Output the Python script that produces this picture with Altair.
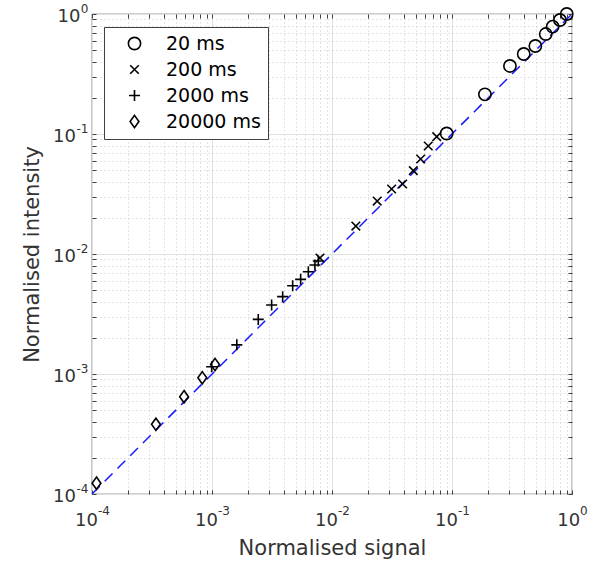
import math
import altair as alt
import pandas as pd

# Normalised signal / intensity pairs per exposure time
series_labels = ["20 ms", "200 ms", "2000 ms", "20000 ms"]

signal_20 = [0.904, 0.794, 0.690, 0.604, 0.495, 0.396, 0.304, 0.188, 0.0903]
intensity_20 = [1.0, 0.891, 0.784, 0.681, 0.541, 0.464, 0.369, 0.214, 0.101]

signal_200 = [0.0746, 0.0634, 0.0548, 0.0476, 0.0388, 0.0314, 0.0238, 0.0158, 0.00794]
intensity_200 = [0.095, 0.0794, 0.0619, 0.0495, 0.0383, 0.0348, 0.0276, 0.0171, 0.00926]

signal_2000 = [0.00769, 0.00721, 0.00635, 0.00548, 0.00470, 0.00388, 0.00314,
               0.00243, 0.00161, 0.000994]
intensity_2000 = [0.00874, 0.00810, 0.00712, 0.00615, 0.00544, 0.00441, 0.00376,
                  0.00285, 0.00175, 0.00115]

signal_20000 = [0.000109, 0.000341, 0.000585, 0.000830, 0.00106]
intensity_20000 = [0.000123, 0.000381, 0.000647, 0.000931, 0.00120]

# y = x reference line
ref_line = [1e-4, 1.0]

major_ticks = [1e-4, 1e-3, 1e-2, 1e-1, 1.0]
exponents = ["-4", "-3", "-2", "-1", "0"]
minor_ticks = [m * 10.0 ** k for k in range(-4, 0) for m in range(2, 10)]

rows = []
for lab, xs, ys in zip(series_labels,
                       [signal_20, signal_200, signal_2000, signal_20000],
                       [intensity_20, intensity_200, intensity_2000, intensity_20000]):
    for a, b in zip(xs, ys):
        rows.append({"signal": a, "intensity": b, "exposure": lab})
points_df = pd.DataFrame(rows)
line_df = pd.DataFrame({"signal": ref_line, "intensity": ref_line})

# exponent text for each decade tick
exp_expr = "''"
for v, e in zip(major_ticks, exponents):
    k = round(math.log10(v))
    exp_expr = f"(abs(log(datum.value)/log(10) - ({k})) < 0.01 ? '{e}' : {exp_expr})"

FONT = "DejaVu Sans"
TEXT = "#333333"
EDGE = "#404040"
BASE_SIZE = 18
EXP_SIZE = 12

xscale = alt.Scale(type="log", domain=[1e-4, 1.0], nice=False)
yscale = alt.Scale(type="log", domain=[1e-4, 1.0], nice=False)


def bare_axis(orient, values, **kw):
    base = dict(orient=orient, values=values, labels=False, ticks=False,
                domain=False, grid=False, title=None)
    base.update(kw)
    return alt.Axis(**base)


def is_one(a, b):
    return {"condition": {"test": "datum.value >= 0.5", "value": a}, "value": b}


label_common = dict(labelFont=FONT, labelColor=TEXT, labelFlush=False,
                    labelOverlap=False, labelBound=False)

# dashed y = x line; carries the "10" part of the labels, titles and major grid
line = alt.Chart(line_df).mark_line(
    color="#1a1aff", strokeDash=[11, 7], strokeWidth=1.5, clip=True
).encode(
    x=alt.X("signal:Q", scale=xscale, axis=alt.Axis(
        orient="bottom", values=major_ticks, grid=True, gridColor="#e0e0e0",
        gridWidth=1, ticks=False, domain=False, labelExpr="'10'",
        labelFontSize=BASE_SIZE, labelAlign="right", labelBaseline="top",
        labelPadding=17, labelOffset=is_one(7.6, 5.4), **label_common,
        title="Normalised signal", titleFont=FONT, titleFontSize=21,
        titleFontWeight="normal", titleColor=TEXT, titlePadding=8)),
    y=alt.Y("intensity:Q", scale=yscale, axis=alt.Axis(
        orient="left", values=major_ticks, grid=True, gridColor="#e0e0e0",
        gridWidth=1, ticks=False, domain=False, labelExpr="'10'",
        labelFontSize=BASE_SIZE, labelAlign="right", labelBaseline="middle",
        labelPadding=is_one(12, 16.5), labelOffset=2, **label_common,
        title="Normalised intensity", titleFont=FONT, titleFontSize=21,
        titleFontWeight="normal", titleColor=TEXT, titlePadding=10)),
)

shape_paths = [
    "circle",
    "M-0.7,-0.7L0.7,0.7M0.7,-0.7L-0.7,0.7",
    "M-0.9,0L0.9,0M0,-0.9L0,0.9",
    "M0,-1L0.72,0L0,1L-0.72,0Z",
]

points = alt.Chart(points_df).mark_point(
    filled=False, color="black", strokeWidth=1.6, size=150, opacity=1
).encode(
    x=alt.X("signal:Q", scale=xscale,
            axis=bare_axis("bottom", minor_ticks, grid=True, gridColor="#c8c8c8",
                           gridDash=[1, 3], gridWidth=1)),
    y=alt.Y("intensity:Q", scale=yscale,
            axis=bare_axis("left", minor_ticks, grid=True, gridColor="#c8c8c8",
                           gridDash=[1, 3], gridWidth=1)),
    shape=alt.Shape("exposure:N", scale=alt.Scale(domain=series_labels, range=shape_paths),
                    legend=alt.Legend(
                        orient="none", legendX=12, legendY=13, title=None,
                        strokeColor=EDGE, fillColor="white", padding=7,
                        labelFont=FONT, labelFontSize=19, labelColor="black",
                        symbolSize=150, symbolStrokeColor="black",
                        symbolStrokeWidth=1.6, symbolFillColor="transparent",
                        symbolOffset=14, rowPadding=6, labelOffset=22,
                        cornerRadius=0)),
)

# superscript exponents of the decade labels
exps = alt.Chart(line_df).mark_point(opacity=0).encode(
    x=alt.X("signal:Q", scale=xscale, axis=alt.Axis(
        orient="bottom", values=major_ticks, grid=False, ticks=False, domain=False,
        labelExpr=exp_expr, labelFontSize=EXP_SIZE, labelAlign="left",
        labelBaseline="top", labelPadding=11, labelOffset=is_one(7.6, 5.4),
        title=None, **label_common)),
    y=alt.Y("intensity:Q", scale=yscale, axis=alt.Axis(
        orient="left", values=major_ticks, grid=False, ticks=False, domain=False,
        labelExpr=exp_expr, labelFontSize=EXP_SIZE, labelAlign="right",
        labelBaseline="middle", labelPadding=4, labelOffset=-6,
        title=None, **label_common)),
)

# inward tick marks on all four edges
all_ticks = major_ticks + minor_ticks
tick_kw = dict(ticks=True, tickSize=4, tickColor=EDGE, tickWidth=1, offset=-4)

ticks_bl = alt.Chart(line_df).mark_point(opacity=0).encode(
    x=alt.X("signal:Q", scale=xscale, axis=bare_axis("bottom", all_ticks, **tick_kw)),
    y=alt.Y("intensity:Q", scale=yscale, axis=bare_axis("left", all_ticks, **tick_kw)),
)
ticks_tr = alt.Chart(line_df).mark_point(opacity=0).encode(
    x=alt.X("signal:Q", scale=xscale, axis=bare_axis("top", all_ticks, **tick_kw)),
    y=alt.Y("intensity:Q", scale=yscale, axis=bare_axis("right", all_ticks, **tick_kw)),
)

chart = alt.layer(line, points, exps, ticks_bl, ticks_tr).resolve_axis(
    x="independent", y="independent"
).properties(
    width=480, height=480,
    autosize=alt.AutoSizeParams(type="none"),
    padding={"left": 92, "top": 14, "right": 36, "bottom": 78},
    background="white",
).configure_view(stroke=EDGE, strokeWidth=1.2)

chart.save("out.html", embed_options={"renderer": "svg", "actions": False})
